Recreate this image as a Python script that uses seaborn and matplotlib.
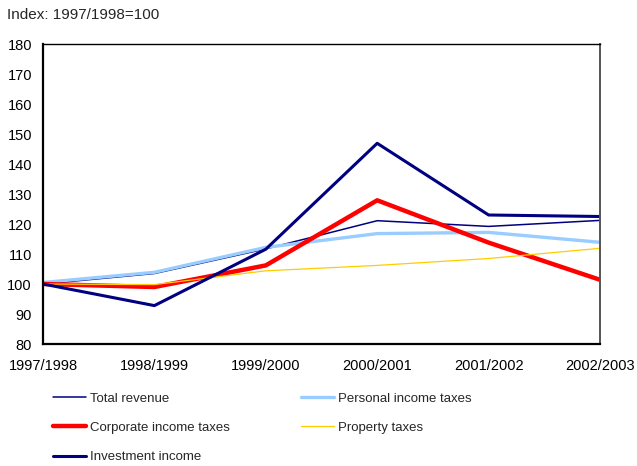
import matplotlib
matplotlib.use("Agg")
import matplotlib.pyplot as plt
import seaborn as sns
import pandas as pd

# Fiscal years on the horizontal axis
years = ["1997/1998", "1998/1999", "1999/2000", "2000/2001", "2001/2002", "2002/2003"]

# Index values, 1997/1998 = 100
total_revenue = [100.0, 103.5, 111.7, 121.1, 119.2, 121.2]
personal_income_taxes = [100.5, 103.9, 112.2, 116.8, 117.2, 113.9]
corporate_income_taxes = [100.0, 99.0, 106.2, 127.9, 113.8, 101.4]
property_taxes = [100.0, 99.8, 104.4, 106.2, 108.5, 111.9]
investment_income = [100.0, 92.8, 111.6, 146.9, 123.0, 122.5]

series = [
    ("Total revenue", total_revenue, "#000080", 1.1),
    ("Personal income taxes", personal_income_taxes, "#99CCFF", 2.4),
    ("Corporate income taxes", corporate_income_taxes, "#FF0000", 3.2),
    ("Property taxes", property_taxes, "#FFCC00", 0.9),
    ("Investment income", investment_income, "#000080", 2.2),
]

sns.set_style("white")
plt.rcParams["font.family"] = ["Liberation Sans", "DejaVu Sans"]
plt.rcParams["font.size"] = 10

fig = plt.figure(figsize=(6.37, 4.66), dpi=100)
ax = fig.add_axes([43 / 637, 1 - 344 / 466, (600 - 43) / 637, (344 - 44) / 466])

handles = {}
for name, vals, color, lw in series:
    df = pd.DataFrame({"x": range(len(years)), "y": vals})
    sns.lineplot(data=df, x="x", y="y", ax=ax, color=color, linewidth=lw,
                 label=name, legend=False)
    handles[name] = ax.lines[-1]

ax.set_xlim(0, len(years) - 1)
ax.set_ylim(80, 180)
ax.set_xticks(range(len(years)))
ax.set_xticklabels(years)
ax.set_yticks(range(80, 181, 10))
ax.set_xlabel("")
ax.set_ylabel("")

ax.tick_params(axis="both", direction="in", length=4, width=1, colors="black",
               labelsize=10.5, labelcolor="black")
ax.tick_params(axis="x", pad=11)
ax.tick_params(axis="y", pad=8)

for side in ["left", "bottom"]:
    ax.spines[side].set_linewidth(1.6)
    ax.spines[side].set_color("black")
ax.spines["top"].set_linewidth(1.0)
ax.spines["top"].set_color("black")
ax.spines["right"].set_linewidth(1.4)
ax.spines["right"].set_color("#555555")

fig.text(7 / 637, 1 - 15 / 466, "Index: 1997/1998=100", ha="left", va="center",
         fontsize=11)

order = ["Total revenue", "Corporate income taxes", "Investment income",
         "Personal income taxes", "Property taxes"]
fig.legend([handles[n] for n in order], order, ncol=2, frameon=False,
           loc="upper left", bbox_to_anchor=(48 / 637, 1 - 387 / 466),
           handlelength=2.5, handletextpad=0.3, labelspacing=1.3,
           columnspacing=5.4, fontsize=9.5, borderaxespad=0)

fig.savefig("out.png", dpi=100)
